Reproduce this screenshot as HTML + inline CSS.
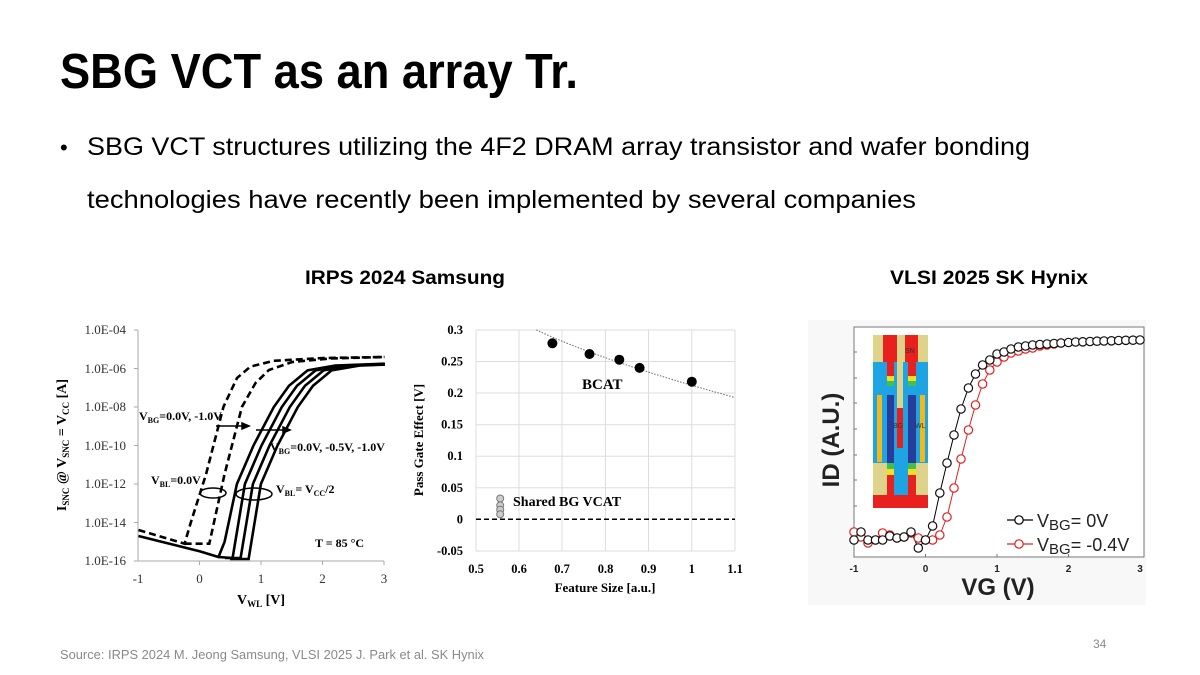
<!DOCTYPE html>
<html><head><meta charset="utf-8"><style>
html,body{margin:0;padding:0;background:#fff;}
svg{display:block;}
.s{font-family:"Liberation Sans",sans-serif;}
.r{font-family:"Liberation Serif",serif;}
</style></head><body>
<svg width="1200" height="675" viewBox="0 0 1200 675" xmlns="http://www.w3.org/2000/svg">
<rect width="1200" height="675" fill="#fff"/>
<!-- Slide text -->
<text class="s" x="60" y="88" font-size="49" font-weight="bold" fill="#000" textLength="518" lengthAdjust="spacingAndGlyphs">SBG VCT as an array Tr.</text>
<text class="s" x="60" y="155" font-size="22" fill="#000">•</text>
<text class="s" x="87" y="155" font-size="25" fill="#000" textLength="943" lengthAdjust="spacingAndGlyphs">SBG VCT structures utilizing the 4F2 DRAM array transistor and wafer bonding</text>
<text class="s" x="87" y="208" font-size="25" fill="#000" textLength="829" lengthAdjust="spacingAndGlyphs">technologies have recently been implemented by several companies</text>
<text class="s" x="305" y="284" font-size="19" font-weight="bold" textLength="200" lengthAdjust="spacingAndGlyphs">IRPS 2024 Samsung</text>
<text class="s" x="890" y="284" font-size="19" font-weight="bold" textLength="198" lengthAdjust="spacingAndGlyphs">VLSI 2025 SK Hynix</text>
<text class="s" x="60" y="659" font-size="12.5" fill="#8a8a8a" textLength="424" lengthAdjust="spacingAndGlyphs">Source: IRPS 2024 M. Jeong Samsung, VLSI 2025 J. Park et al. SK Hynix</text>
<text class="s" x="1093" y="648" font-size="12" fill="#8a8a8a">34</text>

<!-- Chart 1 -->
<defs><clipPath id="c1"><rect x="138" y="325" width="247" height="240"/></clipPath></defs>
<g stroke="#aaa" stroke-width="1" fill="none">
<line x1="138" y1="330" x2="138" y2="561"/>
<line x1="138" y1="561" x2="384" y2="561"/>
<path d="M138 330h-4M138 368.5h-4M138 407h-4M138 445.5h-4M138 484h-4M138 522.5h-4M138 561h-4M199.5 561v4M261 561v4M322.5 561v4M384 561v4"/>
</g>
<g class="r" font-size="13" fill="#333" text-anchor="end">
<text x="126" y="334">1.0E-04</text><text x="126" y="373">1.0E-06</text><text x="126" y="411">1.0E-08</text><text x="126" y="450">1.0E-10</text><text x="126" y="488">1.0E-12</text><text x="126" y="527">1.0E-14</text><text x="126" y="565">1.0E-16</text>
</g>
<g class="r" font-size="13" fill="#333" text-anchor="middle">
<text x="138" y="583">-1</text><text x="199.5" y="583">0</text><text x="261" y="583">1</text><text x="322.5" y="583">2</text><text x="384" y="583">3</text>
</g>
<text class="r" x="261" y="604" font-size="14" font-weight="bold" text-anchor="middle">V<tspan font-size="9" dy="3">WL</tspan><tspan dy="-3"> [V]</tspan></text>
<text class="r" transform="translate(66,445) rotate(-90)" font-size="14" font-weight="bold" text-anchor="middle">I<tspan font-size="9" dy="3">SNC</tspan><tspan dy="-3"> @ V</tspan><tspan font-size="9" dy="3">SNC</tspan><tspan dy="-3"> = V</tspan><tspan font-size="9" dy="3">CC</tspan><tspan dy="-3"> [A]</tspan></text>
<g clip-path="url(#c1)" fill="none" stroke="#000" stroke-width="2.6">
<path d="M138.5 536 L200 551.4 L218.5 557 L224.6 541.8 L236.9 484 L253.5 445.5 L273.8 407 L289 385.8 L307.6 370.4 L335.3 365.6 L384.5 363.7"/>
<path d="M218.5 557 L232.6 558 L244.9 484 L261.5 445.5 L281.8 407 L297 385.8 L315.6 370.4 L343.3 365.6 L392.5 363.7"/>
<path d="M225 558 L240.6 558 L252.9 484 L269.5 445.5 L289.8 407 L305 385.8 L323.6 370.4 L351.3 365.6 L400.5 363.7"/>
<path d="M230 559 L248.6 559 L260.9 484 L277.5 445.5 L297.8 407 L313 385.8 L331.6 370.4 L359.3 365.6 L408.5 363.7"/>
<g stroke-dasharray="7,4">
<path d="M138.5 530 L184.6 543.7 L190.8 522.5 L206 474.4 L223.4 407 L237 378 L250.4 366.6 L273.8 360.8 L323 358 L384.5 357"/>
<path d="M184.6 543.7 L209.3 543.7 L224.5 474.4 L241.9 407 L255.5 383 L268.9 370 L292.3 362 L330 358.5 L384.5 357"/>
</g>
</g>
<text class="r" x="139" y="420" font-size="12" font-weight="bold">V<tspan font-size="8" dy="3">BG</tspan><tspan dy="-3">=0.0V, -1.0V</tspan></text>
<text class="r" x="270" y="451" font-size="12" font-weight="bold">V<tspan font-size="8" dy="3">BG</tspan><tspan dy="-3">=0.0V, -0.5V, -1.0V</tspan></text>
<text class="r" x="151" y="484" font-size="12" font-weight="bold">V<tspan font-size="8" dy="3">BL</tspan><tspan dy="-3">=0.0V</tspan></text>
<text class="r" x="276" y="493" font-size="12" font-weight="bold">V<tspan font-size="8" dy="3">BL</tspan><tspan dy="-3">= V</tspan><tspan font-size="8" dy="3">CC</tspan><tspan dy="-3">/2</tspan></text>
<text class="r" x="315" y="547" font-size="12" font-weight="bold">T = 85 °C</text>
<g stroke="#000" stroke-width="1.5" fill="#000">
<line x1="216" y1="426" x2="244" y2="426"/><path d="M249 426l-7-3v6z"/>
<line x1="256" y1="430" x2="285" y2="430"/><path d="M290 430l-7-3v6z"/>
<ellipse cx="213" cy="493" rx="13" ry="5" fill="none"/>
<ellipse cx="254" cy="494" rx="18" ry="6" fill="none"/>
</g>

<!-- Chart 2 -->
<g stroke="#ddd" stroke-width="1">
<path d="M476 330V551M519 330V551M562 330V551M605.5 330V551M648.5 330V551M691.8 330V551M735 330V551"/>
<path d="M476 330H735M476 361.5H735M476 393H735M476 424.7H735M476 456.2H735M476 487.8H735M476 551H735"/>
</g>
<line x1="476" y1="519.3" x2="735" y2="519.3" stroke="#000" stroke-width="1.5" stroke-dasharray="5,3"/>
<path d="M536.4 330 Q605 362 735 397.5" fill="none" stroke="#666" stroke-width="1" stroke-dasharray="1.5,1.5"/>
<g fill="#000">
<circle cx="552.4" cy="343.3" r="5"/><circle cx="589.5" cy="354" r="5"/><circle cx="619.3" cy="359.7" r="5"/><circle cx="639.6" cy="367.9" r="5"/><circle cx="691.8" cy="381.7" r="5"/>
</g>
<g fill="#ccc" stroke="#777" stroke-width="1">
<circle cx="500.2" cy="498.5" r="3.5"/><circle cx="500.2" cy="505.4" r="3.5"/><circle cx="500.2" cy="509.8" r="3.5"/><circle cx="500.2" cy="514.3" r="3.5"/>
</g>
<text class="r" x="582" y="389" font-size="15" font-weight="bold">BCAT</text>
<text class="r" x="513" y="506" font-size="14" font-weight="bold">Shared BG VCAT</text>
<g class="r" font-size="12.5" font-weight="bold" text-anchor="end">
<text x="463" y="334">0.3</text><text x="463" y="365.5">0.25</text><text x="463" y="397">0.2</text><text x="463" y="428.7">0.15</text><text x="463" y="460.2">0.1</text><text x="463" y="491.8">0.05</text><text x="463" y="523.3">0</text><text x="463" y="555">-0.05</text>
</g>
<g class="r" font-size="12.5" font-weight="bold" text-anchor="middle">
<text x="476" y="573">0.5</text><text x="519" y="573">0.6</text><text x="562" y="573">0.7</text><text x="605.5" y="573">0.8</text><text x="648.5" y="573">0.9</text><text x="691.8" y="573">1</text><text x="735" y="573">1.1</text>
</g>
<text class="r" x="605" y="592" font-size="13" font-weight="bold" text-anchor="middle">Feature Size [a.u.]</text>
<text class="r" transform="translate(423,440) rotate(-90)" font-size="13" font-weight="bold" text-anchor="middle">Pass Gate Effect [V]</text>

<!-- Chart 3 -->
<rect x="808" y="320" width="338" height="285" fill="#f8f8f8"/>
<rect x="854" y="327" width="290" height="230" fill="#fff" stroke="#777" stroke-width="1"/>
<g stroke="#777" stroke-width="1">
<path d="M854 352h3M854 378h3M854 403h3M854 429h3M854 455h3M854 480h3M854 506h3M854 531h3M925.5 557v-3M997 557v-3M1068.5 557v-3"/>
</g>
<g>
<rect x="873" y="335" width="55" height="173" fill="#ddd48a"/>
<rect x="883" y="335" width="14" height="27" fill="#e8201e"/>
<rect x="905" y="335" width="13" height="27" fill="#e8201e"/>
<rect x="873" y="362" width="55" height="101" fill="#1ea3e3"/>
<rect x="897" y="335" width="6" height="73" fill="#ddd48a"/>
<rect x="897" y="408" width="6" height="40" fill="#e8201e"/>
<rect x="877" y="395" width="5" height="67" fill="#f0b81a"/>
<rect x="920" y="395" width="5" height="67" fill="#f0b81a"/>
<rect x="887" y="395" width="7" height="68" fill="#283c9c"/>
<rect x="908" y="395" width="8" height="68" fill="#283c9c"/>
<rect x="887" y="362" width="7" height="14" fill="#e8201e"/><rect x="887" y="376" width="7" height="5" fill="#f5e020"/><rect x="887" y="381" width="7" height="5" fill="#40c050"/>
<rect x="908" y="362" width="8" height="14" fill="#e8201e"/><rect x="908" y="376" width="8" height="5" fill="#f5e020"/><rect x="908" y="381" width="8" height="5" fill="#40c050"/>
<rect x="894" y="463" width="14" height="32" fill="#1ea3e3"/>
<rect x="887" y="463" width="7" height="6" fill="#40c050"/><rect x="887" y="469" width="7" height="6" fill="#f5e020"/><rect x="887" y="475" width="7" height="20" fill="#e8201e"/>
<rect x="908" y="463" width="8" height="6" fill="#40c050"/><rect x="908" y="469" width="8" height="6" fill="#f5e020"/><rect x="908" y="475" width="8" height="20" fill="#e8201e"/>
<rect x="873" y="495" width="55" height="13" fill="#e8201e"/>
<text class="s" x="905" y="353" font-size="7" fill="#333">SN</text>
<text class="s" x="893" y="428" font-size="7" fill="#333">BG</text>
<text class="s" x="915" y="428" font-size="7" fill="#333">WL</text>
</g>
<polyline fill="none" stroke="#e02020" stroke-width="1" points="854,532 861,537 868,543 875.5,540 882.6,533 889.8,535 897,538 904,537 911,533 918.3,538 925.5,540 932.6,540 939.8,535 947,517 954,488 961,459 968.4,430 975.5,405 982.6,384 989.8,370 997,362 1004,357 1011,353 1018.4,351 1025.5,349 1032.6,348 1039.8,346 1047,345 1054,344 1061,343 1068.5,342.5 1140,340"/>
<polyline fill="none" stroke="#000" stroke-width="1" points="854,540 861,532 868,540 875.5,540 882.6,540 889.8,536 897,538 904,537 911,532 918.3,548 925.5,540 932.6,526 939.8,493 947,463 954,435 961,409 968.4,388 975.5,374 982.6,365 989.8,360 997,354 1004,352 1011,349 1018.4,347 1025.5,346 1032.6,345 1068.5,342.5 1140,340"/>
<g fill="#fff" stroke="#e02020" stroke-width="1.2">
<circle cx="854" cy="532" r="4.2"/><circle cx="861" cy="537" r="4.2"/><circle cx="868" cy="543" r="4.2"/><circle cx="875.5" cy="540" r="4.2"/><circle cx="882.6" cy="533" r="4.2"/><circle cx="889.8" cy="535" r="4.2"/><circle cx="897" cy="538" r="4.2"/><circle cx="904" cy="537" r="4.2"/><circle cx="911" cy="533" r="4.2"/><circle cx="918.3" cy="538" r="4.2"/><circle cx="925.5" cy="540" r="4.2"/><circle cx="932.6" cy="540" r="4.2"/><circle cx="939.8" cy="535" r="4.2"/><circle cx="947" cy="517" r="4.2"/><circle cx="954" cy="488" r="4.2"/><circle cx="961" cy="459" r="4.2"/><circle cx="968.4" cy="430" r="4.2"/><circle cx="975.5" cy="405" r="4.2"/><circle cx="982.6" cy="384" r="4.2"/><circle cx="989.8" cy="370" r="4.2"/><circle cx="997" cy="362" r="4.2"/><circle cx="1004" cy="357" r="4.2"/><circle cx="1011" cy="353" r="4.2"/><circle cx="1018.4" cy="351" r="4.2"/><circle cx="1025.5" cy="349" r="4.2"/><circle cx="1032.6" cy="348" r="4.2"/><circle cx="1039.8" cy="346" r="4.2"/><circle cx="1047" cy="345" r="4.2"/><circle cx="1054" cy="344" r="4.2"/><circle cx="1061" cy="343" r="4.2"/>
</g>
<g fill="#fff" stroke="#111" stroke-width="1.2">
<circle cx="854" cy="540" r="4.2"/><circle cx="861" cy="532" r="4.2"/><circle cx="868" cy="540" r="4.2"/><circle cx="875.5" cy="540" r="4.2"/><circle cx="882.6" cy="540" r="4.2"/><circle cx="889.8" cy="536" r="4.2"/><circle cx="897" cy="538" r="4.2"/><circle cx="904" cy="537" r="4.2"/><circle cx="911" cy="532" r="4.2"/><circle cx="918.3" cy="548" r="4.2"/><circle cx="925.5" cy="540" r="4.2"/><circle cx="932.6" cy="526" r="4.2"/><circle cx="939.8" cy="493" r="4.2"/><circle cx="947" cy="463" r="4.2"/><circle cx="954" cy="435" r="4.2"/><circle cx="961" cy="409" r="4.2"/><circle cx="968.4" cy="388" r="4.2"/><circle cx="975.5" cy="374" r="4.2"/><circle cx="982.6" cy="365" r="4.2"/><circle cx="989.8" cy="360" r="4.2"/><circle cx="997" cy="354" r="4.2"/><circle cx="1004" cy="352" r="4.2"/><circle cx="1011" cy="349" r="4.2"/><circle cx="1018.4" cy="347" r="4.2"/><circle cx="1025.5" cy="346" r="4.2"/><circle cx="1032.6" cy="345" r="4.2"/><circle cx="1039.8" cy="344.5" r="4.2"/><circle cx="1047" cy="344" r="4.2"/><circle cx="1054" cy="343.5" r="4.2"/><circle cx="1061" cy="343" r="4.2"/><circle cx="1068.5" cy="342.5" r="4.2"/><circle cx="1075.6" cy="342" r="4.2"/><circle cx="1082.8" cy="341.8" r="4.2"/><circle cx="1090" cy="341.5" r="4.2"/><circle cx="1097" cy="341.2" r="4.2"/><circle cx="1104" cy="341" r="4.2"/><circle cx="1111.4" cy="340.8" r="4.2"/><circle cx="1118.6" cy="340.5" r="4.2"/><circle cx="1125.8" cy="340.3" r="4.2"/><circle cx="1133" cy="340.2" r="4.2"/><circle cx="1140" cy="340" r="4.2"/>
</g>
<line x1="1007" y1="520" x2="1033" y2="520" stroke="#000" stroke-width="1.2"/><circle cx="1019" cy="520" r="4.2" fill="#fff" stroke="#000" stroke-width="1.2"/>
<line x1="1007" y1="544" x2="1033" y2="544" stroke="#e02020" stroke-width="1.2"/><circle cx="1019" cy="544" r="4.2" fill="#fff" stroke="#e02020" stroke-width="1.2"/>
<text class="s" x="1037" y="527" font-size="18" fill="#222">V<tspan font-size="15" dy="3">BG</tspan><tspan dy="-3">= 0V</tspan></text>
<text class="s" x="1037" y="551" font-size="18" fill="#222">V<tspan font-size="15" dy="3">BG</tspan><tspan dy="-3">= -0.4V</tspan></text>
<g class="s" font-size="10" font-weight="bold" fill="#222" text-anchor="middle">
<text x="854" y="572">-1</text><text x="925.5" y="572">0</text><text x="997" y="572">1</text><text x="1068.5" y="572">2</text><text x="1140" y="572">3</text>
</g>
<text class="s" x="998" y="595" font-size="24" font-weight="bold" text-anchor="middle" fill="#222">VG (V)</text>
<text class="s" transform="translate(839,440) rotate(-90)" font-size="24" font-weight="bold" text-anchor="middle" fill="#222">ID (A.U.)</text>
</svg>
</body></html>
